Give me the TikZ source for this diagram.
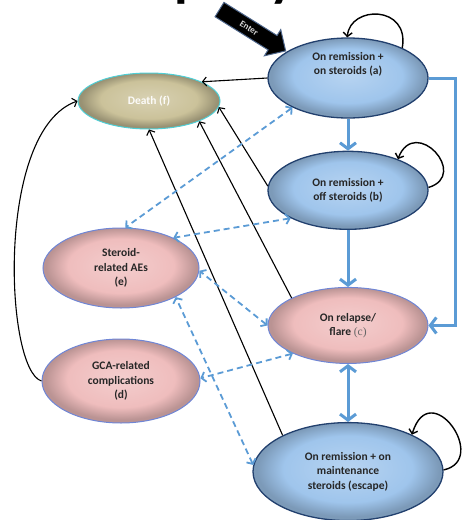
\documentclass[tikz,border=0pt]{standalone}
\usepackage{fontspec}
\setmainfont{Carlito}
\newfontfamily\seriffont{Liberation Serif}
\usepackage{tikz}
\usetikzlibrary{shapes,arrows}
\usetikzlibrary{positioning}
\usetikzlibrary{arrows.meta}
\definecolor{stateblue}{HTML}{9FC5EC}
\definecolor{stateedge}{HTML}{22406E}
\definecolor{evpink}{HTML}{EFBDBD}
\definecolor{evedge}{HTML}{6F86D6}
\definecolor{deathfill}{HTML}{CBC29A}
\definecolor{deathedge}{HTML}{4FCFD6}
\definecolor{flowblue}{HTML}{5B9BD5}
\definecolor{labeltext}{HTML}{262626}
\pgfdeclareradialshading{bevelblue}{\pgfpoint{0bp}{2bp}}{color(0bp)=(stateblue!75!white); color(17bp)=(stateblue); color(24bp)=(stateblue!78!black); color(50bp)=(stateblue!78!black)}
\pgfdeclareradialshading{bevelpink}{\pgfpoint{0bp}{2bp}}{color(0bp)=(evpink!75!white); color(17bp)=(evpink); color(24bp)=(evpink!78!black); color(50bp)=(evpink!78!black)}
\pgfdeclareradialshading{beveldeath}{\pgfpoint{0bp}{2bp}}{color(0bp)=(deathfill!75!white); color(17bp)=(deathfill); color(24bp)=(deathfill!75!black); color(50bp)=(deathfill!75!black)}
\tikzstyle{remit} = [draw=stateedge,
line width=1.3pt,
ellipse,
inner sep=0.5pt,
shading=bevelblue,
align=center,
text=labeltext,
font=\bfseries\fontsize{11.5}{14.5}\selectfont]
\tikzstyle{event} = [remit,
draw=evedge,
line width=1pt,
shading=bevelpink]
\tikzstyle{todeath} = [draw,
-{Straight Barb[length=4pt,width=9pt]},
line width=1.1pt,
color=black]
\begin{document}
\begin{tikzpicture}[x=1pt, y=1pt,
	death/.style={remit, draw=deathedge, line width=1pt,
		shading=beveldeath, text=white!94!deathfill},
	flow/.style={draw, -{Straight Barb[length=6pt,width=16pt]},
		line width=3pt, color=flowblue},
	dflow/.style={draw, {Straight Barb[length=4pt,width=10pt]}-{Straight Barb[length=4pt,width=10pt]},
		line width=1.8pt, color=flowblue, dash pattern=on 6pt off 4pt},
	selfloop/.style={todeath, line width=1.4pt},
	enterarrow/.style={single arrow, fill=black, draw=stateedge!80, line width=1pt,
		text=white!85!black, font=\bfseries\fontsize{9}{10}\selectfont,
		minimum height=78pt, inner sep=5pt,
		single arrow head extend=7pt},
	titlefrag/.style={font=\bfseries\fontsize{56}{56}\selectfont, anchor=base, inner sep=0pt}]
	\useasboundingbox (0,0) rectangle (469,-520);
	\clip (0,0) rectangle (469,-520);
	%% title, cut off at the top
	\node [titlefrag] (tp) at (190,5) {p};
	\node [titlefrag] (ty) at (283,5) {y};
	%% States
	\node [remit, minimum width=160pt, minimum height=80pt, text depth=29pt] (a) at (348,-78) {On remission +\\on steroids (a)};
	\node [remit, minimum width=160pt, minimum height=78pt, below=32pt of a] (b) {On remission +\\off steroids (b)};
	\node [event, minimum width=160pt, minimum height=76pt, below=57pt of b] (c) {On relapse/\\flare {\seriffont\mdseries\color{black!60}(c)}};
	\node [remit, minimum width=190pt, minimum height=98pt, below=58pt of c] (esc) {On remission + on\\maintenance\\steroids (escape)};
	\node [death, minimum width=142pt, minimum height=56pt] (f) at (149,-101) {Death (f)};
	\node [event, minimum width=156pt, minimum height=80pt] (e) at (121,-268) {Steroid-\\related AEs\\(e)};
	\node [event, minimum width=158pt, minimum height=84pt, below=30pt of e] (d) {GCA-related\\complications\\(d)};
	\node [enterarrow, rotate=-32] (enter) at (249,-28) {Enter};
	%% Remission / relapse flows
	\path [flow] (a) -- (b);
	\path [flow] (b) -- (c);
	\path [flow, {Straight Barb[length=6pt,width=16pt]}-{Straight Barb[length=6pt,width=16pt]}] (c) -- (esc);
	\path [flow] (a.east) -- ++(27,0) |- (c.east);
	%% Into death
	\path [todeath] (a.west) -- (f.20);
	\path [todeath] (b.177) -- (f.-5);
	\path [todeath] (c.154) -- (f.-22);
	\path [todeath] (esc.151) -- (f.south);
	\path [todeath] (d.west) .. controls (5,-370) and (-5,-130) .. (f.west);
	%% Adverse events
	\path [dflow] (a.208) -- (e.84);
	\path [dflow] (b.206) -- (e.30);
	\path [dflow] (c.west) -- (e.-2);
	\path [dflow] (c.207) -- (d.2);
	\path [dflow] (esc.176) -- (e.-28);
	%% Staying in a state
	\path [selfloop] (a.29) .. controls (410,-5) and (350,-5) .. (a.91);
	\path [selfloop] (b.2) .. controls (470,-175) and (415,-115) .. (b.32);
	\path [selfloop] (esc.1) .. controls (490,-460) and (430,-375) .. (esc.30);
\end{tikzpicture}
\end{document}
